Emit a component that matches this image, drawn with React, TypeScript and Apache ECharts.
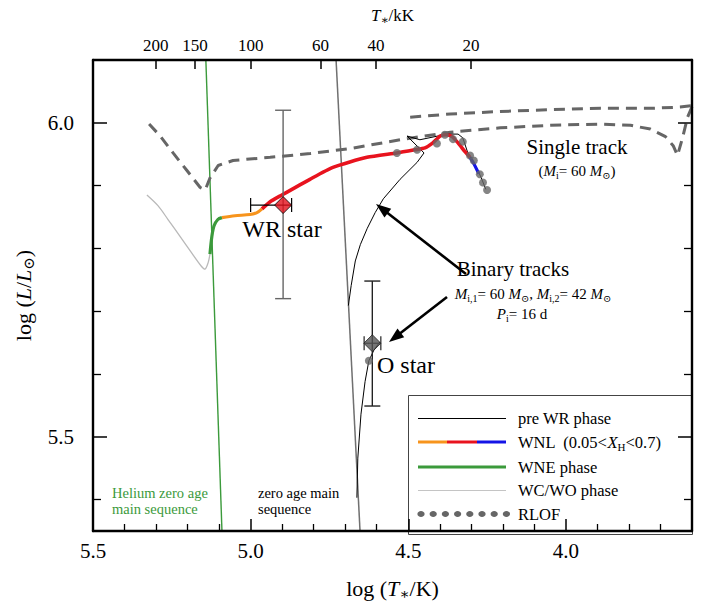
import React, { useEffect, useRef } from "react";
import * as echarts from "echarts";

const FONT = '"Liberation Serif", "DejaVu Serif", serif';

const X_MIN = 3.6;
const X_MAX = 5.5;
const Y_MIN = 5.35;
const Y_MAX = 6.1;

const bottomMajorTicks = [5.5, 5.0, 4.5, 4.0];
const bottomMinorTicks = [5.4, 5.3, 5.2, 5.1, 4.9, 4.8, 4.7, 4.6, 4.4, 4.3, 4.2, 4.1, 3.9, 3.8, 3.7];
const leftMajorTicks = [5.5, 6.0];
const leftMinorTicks = [5.4, 5.6, 5.7, 5.8, 5.9];
const topTempsKK = [200, 150, 100, 60, 40, 20];

const heliumZams = [[5.1434, 6.12], [5.0896, 5.33]];
const zams = [[4.731, 6.12], [4.651, 5.33]];

const singleTrackA = [
  [5.322, 5.998], [5.287, 5.979], [5.246, 5.952], [5.202, 5.924], [5.16, 5.897], [5.144, 5.893],
  [5.129, 5.912], [5.103, 5.932], [5.056, 5.94], [4.938, 5.945], [4.811, 5.951], [4.684, 5.959],
  [4.526, 5.973], [4.367, 5.985], [4.208, 5.992], [4.049, 5.996], [3.89, 5.998], [3.795, 5.996],
  [3.732, 5.99], [3.684, 5.978], [3.659, 5.963], [3.646, 5.948], [3.63, 5.976], [3.614, 6.009],
  [3.598, 6.028], [3.58, 6.04],
];
const singleTrackB = [
  [4.494, 6.009], [4.367, 6.014], [4.208, 6.018], [4.049, 6.021], [3.89, 6.023], [3.732, 6.023],
  [3.638, 6.025], [3.59, 6.028],
];

const primaryPreWR = [
  [4.69, 5.709], [4.681, 5.741], [4.668, 5.78], [4.652, 5.806], [4.63, 5.832], [4.605, 5.857],
  [4.579, 5.879], [4.526, 5.91], [4.472, 5.937], [4.45, 5.952], [4.504, 5.979], [4.463, 5.973],
  [4.377, 5.982], [4.342, 5.982], [4.327, 5.976], [4.311, 5.952], [4.289, 5.934], [4.269, 5.913],
  [4.254, 5.894],
];
const secondaryPreWR = [
  [4.663, 5.403], [4.66, 5.466], [4.65, 5.536], [4.637, 5.588], [4.625, 5.621], [4.609, 5.638],
  [4.59, 5.651],
];

const wnlBlue = [[4.276, 5.919], [4.292, 5.935], [4.304, 5.945]];
const wnlRed = [
  [4.304, 5.945], [4.32, 5.954], [4.342, 5.968], [4.361, 5.978], [4.38, 5.981], [4.399, 5.979],
  [4.422, 5.968], [4.447, 5.96], [4.479, 5.957], [4.536, 5.952], [4.631, 5.945], [4.739, 5.929],
  [4.812, 5.91], [4.901, 5.885], [4.939, 5.874], [4.964, 5.863],
];
const wnlOrange = [[4.964, 5.863], [4.98, 5.857], [5.002, 5.854], [5.05, 5.852], [5.091, 5.849]];
const wne = [[5.091, 5.849], [5.104, 5.846], [5.116, 5.836], [5.123, 5.819], [5.129, 5.791]];
const wcwo = [
  [5.129, 5.791], [5.135, 5.777], [5.145, 5.767], [5.157, 5.772], [5.186, 5.792], [5.224, 5.819],
  [5.262, 5.846], [5.294, 5.868], [5.329, 5.885],
];

const rlofDots = [
  [4.536, 5.952], [4.472, 5.957], [4.409, 5.967], [4.384, 5.981], [4.358, 5.974], [4.327, 5.97],
  [4.304, 5.948], [4.292, 5.94], [4.273, 5.918], [4.263, 5.905], [4.25, 5.893], [4.625, 5.621],
];

// [logT, logL, logT low-side, logT high-side, logL low, logL high]
const wrStar = [4.897, 5.869, 5.0, 4.87, 5.72, 6.02];
const oStar = [4.614, 5.649, 4.64, 4.587, 5.549, 5.748];

const rich = (size: number, sub: number) => ({
  i: { fontFamily: FONT, fontSize: size, fontStyle: "italic", lineHeight: size + 4 },
  s: { fontFamily: FONT, fontSize: sub, verticalAlign: "bottom", lineHeight: Math.round(sub * 0.6) },
  n: { fontFamily: FONT, fontSize: size, lineHeight: size + 4 },
});

function arrow(x1: number, y1: number, x2: number, y2: number) {
  const dx = x2 - x1, dy = y2 - y1;
  const len = Math.hypot(dx, dy);
  const ux = dx / len, uy = dy / len;
  const hl = 15, hw = 5.5;
  const bx = x2 - ux * hl, by = y2 - uy * hl;
  return [
    { type: "line", shape: { x1, y1, x2: bx + ux * 2, y2: by + uy * 2 }, style: { stroke: "#000", lineWidth: 2.6 } },
    {
      type: "polygon",
      shape: { points: [[x2, y2], [bx - uy * hw, by + ux * hw], [bx + uy * hw, by - ux * hw]] },
      style: { fill: "#000" },
    },
  ];
}

function errorSeries(d: number[], barColor: string, hColor: string, capW: number) {
  return {
    type: "custom",
    z: 4,
    data: [d],
    renderItem: (_p: any, api: any) => {
      const yl = api.coord([api.value(0), api.value(4)]);
      const yh = api.coord([api.value(0), api.value(5)]);
      const xl = api.coord([api.value(2), api.value(1)]);
      const xh = api.coord([api.value(3), api.value(1)]);
      const vs = { stroke: barColor, lineWidth: 1.4 };
      const hs = { stroke: hColor, lineWidth: 1.2 };
      return {
        type: "group",
        children: [
          { type: "line", shape: { x1: yl[0], y1: yl[1], x2: yh[0], y2: yh[1] }, style: vs },
          { type: "line", shape: { x1: yl[0] - capW, y1: yl[1], x2: yl[0] + capW, y2: yl[1] }, style: vs },
          { type: "line", shape: { x1: yh[0] - capW, y1: yh[1], x2: yh[0] + capW, y2: yh[1] }, style: vs },
          { type: "line", shape: { x1: xl[0], y1: xl[1], x2: xh[0], y2: xh[1] }, style: hs },
          { type: "line", shape: { x1: xl[0], y1: xl[1] - 7, x2: xl[0], y2: xl[1] + 7 }, style: hs },
          { type: "line", shape: { x1: xh[0], y1: xh[1] - 7, x2: xh[0], y2: xh[1] + 7 }, style: hs },
        ],
      };
    },
  };
}

function lineSeries(data: number[][], color: string, width: number, extra: any = {}) {
  return {
    type: "line",
    data,
    showSymbol: false,
    symbol: "none",
    silent: true,
    lineStyle: { color, width, ...(extra.lineStyle || {}) },
    z: extra.z ?? 2,
    smooth: extra.smooth ?? false,
  };
}

const baseX = { type: "value", min: X_MIN, max: X_MAX, inverse: true, splitLine: { show: false }, z: 10 };
const baseY = { type: "value", min: Y_MIN, max: Y_MAX, splitLine: { show: false }, z: 10 };
const frameLine = { show: true, lineStyle: { color: "#000", width: 2.4 } };

export default function App() {
  const ref = useRef<HTMLDivElement>(null);
  useEffect(() => {
    const chart = echarts.init(ref.current!, null, { renderer: "svg" });
    const topLogs = topTempsKK.map((t) => Math.log10(t * 1000));
    const legendX = 408, legendY = 395;
    const rows = [418.5, 442, 467, 490.5, 514];
    const lf = `16.5px ${FONT}`;
    const option: any = {
      animation: false,
      backgroundColor: "#fff",
      grid: { left: 93, right: 21, top: 56, bottom: 72 },
      xAxis: [
        {
          ...baseX,
          position: "bottom",
          axisLine: frameLine,
          axisTick: { show: true, inside: true, length: 12, customValues: bottomMajorTicks, lineStyle: { color: "#000", width: 1.5 } },
          axisLabel: {
            customValues: bottomMajorTicks,
            formatter: (v: number) => v.toFixed(1),
            fontFamily: FONT, fontSize: 21, color: "#000", margin: 9,
          },
          name: "log ({i|T}{s|∗}/K)",
          nameLocation: "middle",
          nameGap: 44,
          nameTextStyle: { fontFamily: FONT, fontSize: 22, color: "#000", lineHeight: 26, rich: rich(22, 15) },
        },
        {
          ...baseX,
          position: "bottom",
          axisLine: { show: false },
          axisTick: { show: true, inside: true, length: 7, customValues: bottomMinorTicks, lineStyle: { color: "#000", width: 1.3 } },
          axisLabel: { show: false },
        },
        {
          ...baseX,
          position: "top",
          axisLine: frameLine,
          axisTick: { show: true, inside: true, length: 9, customValues: topLogs, lineStyle: { color: "#000", width: 1.5 } },
          axisLabel: {
            customValues: topLogs,
            formatter: (v: number) => String(Math.round(Math.pow(10, v) / 1000)),
            fontFamily: FONT, fontSize: 17, color: "#000", margin: 6,
          },
          name: "{i|T}{s|∗}/kK",
          nameLocation: "middle",
          nameGap: 34,
          nameTextStyle: { fontFamily: FONT, fontSize: 17, color: "#000", lineHeight: 20, rich: rich(17, 12) },
        },
      ],
      yAxis: [
        {
          ...baseY,
          position: "left",
          axisLine: frameLine,
          axisTick: { show: true, inside: true, length: 14, customValues: leftMajorTicks, lineStyle: { color: "#000", width: 1.5 } },
          axisLabel: {
            customValues: leftMajorTicks,
            formatter: (v: number) => v.toFixed(1),
            fontFamily: FONT, fontSize: 21, color: "#000", margin: 19,
          },
          name: "log ({i|L}/{i|L}{s|⊙})",
          nameLocation: "middle",
          nameRotate: 90,
          nameGap: 56,
          nameTextStyle: { fontFamily: FONT, fontSize: 22, color: "#000", lineHeight: 26, rich: rich(22, 15) },
        },
        {
          ...baseY,
          position: "left",
          axisLine: { show: false },
          axisTick: { show: true, inside: true, length: 8, customValues: leftMinorTicks, lineStyle: { color: "#000", width: 1.3 } },
          axisLabel: { show: false },
        },
        {
          ...baseY,
          position: "right",
          axisLine: frameLine,
          axisTick: { show: true, inside: true, length: 14, customValues: leftMajorTicks, lineStyle: { color: "#000", width: 1.5 } },
          axisLabel: { show: false },
        },
        {
          ...baseY,
          position: "right",
          axisLine: { show: false },
          axisTick: { show: true, inside: true, length: 8, customValues: leftMinorTicks, lineStyle: { color: "#000", width: 1.3 } },
          axisLabel: { show: false },
        },
      ],
      series: [
        lineSeries(heliumZams, "#3b9a3b", 1.4),
        lineSeries(zams, "#707070", 1.5),
        lineSeries(singleTrackA, "#666", 3, { lineStyle: { type: [11, 7] } }),
        lineSeries(singleTrackB, "#666", 3, { lineStyle: { type: [11, 7] } }),
        lineSeries(primaryPreWR, "#000", 1),
        lineSeries(secondaryPreWR, "#000", 1),
        lineSeries(wcwo, "#b9b9b9", 1.3, { smooth: 0.3 }),
        lineSeries(wne, "#3b9a3b", 3.2, { z: 3, smooth: 0.3 }),
        lineSeries(wnlOrange, "#f7941d", 3.2, { z: 3, smooth: 0.3 }),
        lineSeries(wnlRed, "#e8131e", 3.6, { z: 3, smooth: 0.2 }),
        lineSeries(wnlBlue, "#1414e6", 3.2, { z: 3 }),
        {
          type: "scatter",
          data: rlofDots,
          symbol: "circle",
          symbolSize: 8,
          itemStyle: { color: "#666" },
          silent: true,
          z: 4,
        },
        errorSeries(wrStar, "#666", "#000", 8),
        errorSeries(oStar, "#222", "#222", 8),
        {
          type: "scatter",
          data: [[wrStar[0], wrStar[1]]],
          symbol: "diamond",
          symbolSize: 17,
          itemStyle: { color: "#e3101c", borderColor: "#000", borderWidth: 1 },
          silent: true,
          z: 6,
        },
        {
          type: "scatter",
          data: [[oStar[0], oStar[1]]],
          symbol: "diamond",
          symbolSize: 17,
          itemStyle: { color: "#555", borderColor: "#222", borderWidth: 1 },
          silent: true,
          z: 6,
        },
      ],
      graphic: [
        { type: "text", x: 282, y: 229, style: { text: "WR star", font: `24px ${FONT}`, fill: "#000", align: "center", verticalAlign: "middle" }, z: 20 },
        { type: "text", x: 406, y: 365, style: { text: "O star", font: `24px ${FONT}`, fill: "#000", align: "center", verticalAlign: "middle" }, z: 20 },
        { type: "text", x: 577, y: 147, style: { text: "Single track", font: `21px ${FONT}`, fill: "#000", align: "center", verticalAlign: "middle" }, z: 20 },
        {
          type: "text", x: 577, y: 171, z: 20,
          style: { text: "({i|M}{s|i}= 60 {i|M}{s|⊙})", font: `15px ${FONT}`, fill: "#000", align: "center", verticalAlign: "middle", lineHeight: 18, rich: rich(15, 10) },
        },
        { type: "text", x: 513, y: 269, style: { text: "Binary tracks", font: `21px ${FONT}`, fill: "#000", align: "center", verticalAlign: "middle" }, z: 20 },
        {
          type: "text", x: 533, y: 294, z: 20,
          style: { text: "{i|M}{s|i,1}= 60 {i|M}{s|⊙}, {i|M}{s|i,2}= 42 {i|M}{s|⊙}", font: `15px ${FONT}`, fill: "#000", align: "center", verticalAlign: "middle", lineHeight: 18, rich: rich(15, 10) },
        },
        {
          type: "text", x: 522, y: 314, z: 20,
          style: { text: "{i|P}{s|i}= 16 d", font: `15px ${FONT}`, fill: "#000", align: "center", verticalAlign: "middle", lineHeight: 18, rich: rich(15, 10) },
        },
        ...arrow(466, 274, 376, 204).map((e) => ({ ...e, z: 20 })),
        ...arrow(447, 297, 389, 342).map((e) => ({ ...e, z: 20 })),
        { type: "text", x: 112, y: 493, style: { text: "Helium zero age", font: `14.5px ${FONT}`, fill: "#3b9a3b", verticalAlign: "middle" }, z: 20 },
        { type: "text", x: 112, y: 509, style: { text: "main sequence", font: `14.5px ${FONT}`, fill: "#3b9a3b", verticalAlign: "middle" }, z: 20 },
        { type: "text", x: 258, y: 493, style: { text: "zero age main", font: `14.5px ${FONT}`, fill: "#000", verticalAlign: "middle" }, z: 20 },
        { type: "text", x: 258, y: 509, style: { text: "sequence", font: `14.5px ${FONT}`, fill: "#000", verticalAlign: "middle" }, z: 20 },
        // legend
        { type: "rect", shape: { x: legendX + 0.5, y: legendY + 0.5, width: 692 - legendX, height: 534 - legendY }, style: { fill: "#fff", stroke: "#444", lineWidth: 1 }, z: 5 },
        { type: "line", shape: { x1: 418, y1: rows[0], x2: 506, y2: rows[0] }, style: { stroke: "#000", lineWidth: 1 }, z: 6 },
        { type: "line", shape: { x1: 418, y1: rows[1], x2: 447, y2: rows[1] }, style: { stroke: "#f7941d", lineWidth: 3 }, z: 6 },
        { type: "line", shape: { x1: 447, y1: rows[1], x2: 477, y2: rows[1] }, style: { stroke: "#e8131e", lineWidth: 3 }, z: 6 },
        { type: "line", shape: { x1: 477, y1: rows[1], x2: 506, y2: rows[1] }, style: { stroke: "#1414e6", lineWidth: 3 }, z: 6 },
        { type: "line", shape: { x1: 418, y1: rows[2], x2: 506, y2: rows[2] }, style: { stroke: "#3b9a3b", lineWidth: 3 }, z: 6 },
        { type: "line", shape: { x1: 418, y1: rows[3], x2: 506, y2: rows[3] }, style: { stroke: "#c4c4c4", lineWidth: 1 }, z: 6 },
        ...[0, 1, 2, 3, 4, 5, 6, 7].map((k) => ({
          type: "ellipse", shape: { cx: 421 + k * 12.2, cy: rows[4], rx: 3.6, ry: 3 }, style: { fill: "#666" }, z: 6,
        })),
        { type: "text", x: 518, y: rows[0], style: { text: "pre WR phase", font: lf, fill: "#000", verticalAlign: "middle" }, z: 6 },
        {
          type: "text", x: 518, y: rows[1], z: 6,
          style: { text: "WNL  (0.05<{i|X}{s|H}<0.7)", font: lf, fill: "#000", verticalAlign: "middle", lineHeight: 19, rich: rich(16.5, 11) },
        },
        { type: "text", x: 518, y: rows[2], style: { text: "WNE phase", font: lf, fill: "#000", verticalAlign: "middle" }, z: 6 },
        { type: "text", x: 518, y: rows[3], style: { text: "WC/WO phase", font: lf, fill: "#000", verticalAlign: "middle" }, z: 6 },
        { type: "text", x: 518, y: rows[4], style: { text: "RLOF", font: lf, fill: "#000", verticalAlign: "middle" }, z: 6 },
      ],
    };
    chart.setOption(option);
    return () => chart.dispose();
  }, []);
  return <div ref={ref} style={{ position: "absolute", left: 0, top: 0, width: 713, height: 606 }} />;
}
